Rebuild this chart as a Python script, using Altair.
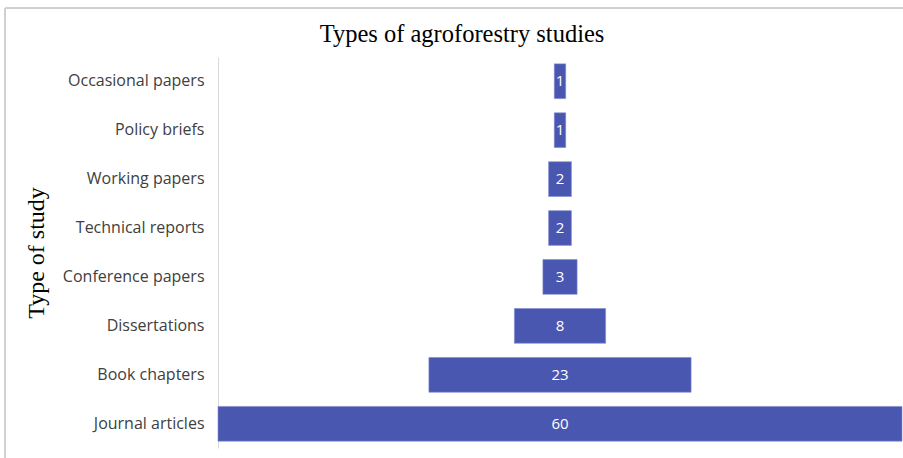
import altair as alt
import pandas as pd

# Study types (top to bottom) and their counts
study_types = [
    "Occasional papers",
    "Policy briefs",
    "Working papers",
    "Technical reports",
    "Conference papers",
    "Dissertations",
    "Book chapters",
    "Journal articles",
]
counts = [1, 1, 2, 2, 3, 8, 23, 60]

df = pd.DataFrame({"type": study_types, "count": counts})
df["lo"] = -df["count"] / 2
df["hi"] = df["count"] / 2

BAR = "#4a57b1"
LABEL_FONT = "Open Sans"
SERIF = "Liberation Serif"

y_enc = alt.Y(
    "type:N",
    sort=study_types,
    scale=alt.Scale(paddingInner=0.29, paddingOuter=0.14),
    axis=alt.Axis(
        title="Type of study",
        titleFont=SERIF,
        titleFontSize=24,
        titleFontWeight="normal",
        titleColor="#000000",
        titlePadding=14,
        labelFont=LABEL_FONT,
        labelFontSize=16,
        labelColor="#404040",
        labelPadding=14,
        ticks=False,
        domainColor="#d9d9d9",
        domainWidth=1,
    ),
)
x_scale = alt.Scale(domain=[-30, 30], nice=False, zero=False)

base = alt.Chart(df)

bars = base.mark_bar(color=BAR, stroke="#7f8ad0", strokeWidth=0.6).encode(
    x=alt.X("lo:Q", scale=x_scale, axis=None),
    x2="hi:Q",
    y=y_enc,
)

labels = base.mark_text(color="white", font=LABEL_FONT, fontSize=15).encode(
    x=alt.X("zero:Q", scale=x_scale, axis=None),
    y=alt.Y("type:N", sort=study_types),
    text="count:Q",
).transform_calculate(zero="0")

# thin outer frame around the whole figure
frame = base.mark_rect(fill=None, stroke="#d0d0d0", strokeWidth=1, clip=False).encode(
    x=alt.value(-213),
    x2=alt.value(700),
    y=alt.value(-49),
    y2=alt.value(420),
)

chart = (
    alt.layer(frame, bars, labels)
    .properties(
        width=684,
        height=391,
        autosize=alt.AutoSizeParams(type="none"),
        padding={"left": 218, "top": 57, "right": 1, "bottom": 10},
        title=alt.TitleParams(
            "Types of agroforestry studies",
            font=SERIF,
            fontSize=24.5,
            fontWeight="normal",
            color="#000000",
            anchor="middle",
            offset=-40,
            dx=-98,
        ),
        background="white",
    )
    .configure_view(stroke=None)
)

chart.save("out.html", embed_options={"renderer": "svg", "actions": False})
